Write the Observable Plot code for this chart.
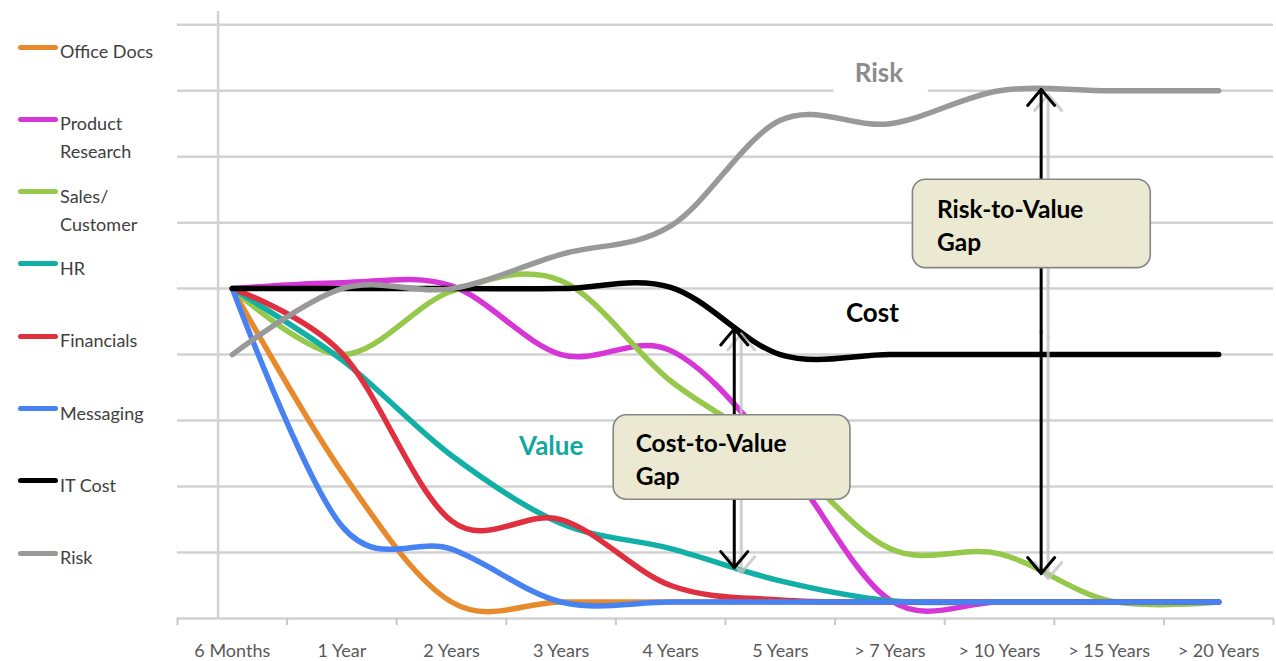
<!DOCTYPE html>
<html><head><meta charset="utf-8">
<script src="https://cdn.jsdelivr.net/npm/d3@7"></script>
<script src="https://cdn.jsdelivr.net/npm/@observablehq/plot@0.6"></script>
<style>
body{margin:0;background:#fff;font-family:Lato,"Open Sans",sans-serif;}
#wrap{position:relative;width:1276px;height:661px;overflow:hidden;}
#legend{position:absolute;left:0;top:0;width:170px;height:661px;}
.sw{position:absolute;left:18px;width:40px;height:5px;border-radius:3px;}
.lab{position:absolute;left:60px;font-size:18px;color:#404040;line-height:28px;white-space:nowrap;}
</style></head><body>
<div id="wrap"><div id="chart"></div><div id="legend"></div></div>
<script>
// ---- data ----
const categories = ["6 Months","1 Year","2 Years","3 Years","4 Years","5 Years","> 7 Years","> 10 Years","> 15 Years","> 20 Years"];
const seriesNames = ["Office Docs","Product\nResearch","Sales/\nCustomer","HR","Financials","Messaging","IT Cost","Risk"];
const seriesColors = ["#E8892B","#D636D6","#96C84B","#12AFA7","#E0303F","#4782F3","#000000","#999999"];
const officeDocs      = [5, 2.22, 0.25, 0.25, 0.25, 0.25, 0.25, 0.25, 0.25, 0.25];
const productResearch = [5, 5.09, 5.04, 4.0, 4.06, 2.45, 0.28, 0.25, 0.25, 0.25];
const salesCustomer   = [5, 4.0, 4.96, 5.12, 3.6, 2.5, 1.06, 0.98, 0.27, 0.25];
const hr              = [5, 3.92, 2.47, 1.44, 1.06, 0.57, 0.27, 0.25, 0.25, 0.25];
const financials      = [5, 4.02, 1.48, 1.5, 0.5, 0.28, 0.25, 0.25, 0.25, 0.25];
const messaging       = [5, 1.4, 1.05, 0.25, 0.25, 0.25, 0.25, 0.25, 0.25, 0.25];
const itCost          = [5, 5, 5, 5, 5.02, 4.0, 4.0, 4.0, 4.0, 4.0];
const risk            = [4.0, 5.0, 5.0, 5.52, 5.95, 7.55, 7.5, 8.0, 8.0, 8.0];
const allSeries = [officeDocs, productResearch, salesCustomer, hr, financials, messaging, itCost, risk];
const gridValues = [0,1,2,3,4,5,6,7,8,9];

// annotation anchors in data units (category index, value)
const labelTexts = ["Risk","Cost","Value"];
const labelX = [5.90, 5.84, 2.91];
const labelY = [8.26, 4.62, 2.60];
const labelColors = ["#8C8C8C","#000000","#12A79F"];
const gapBoxes = [
  {text:"Cost-to-Value\nGap", x1:3.48, x2:5.64, y1:1.80, y2:3.08, tx:3.68},
  {text:"Risk-to-Value\nGap", x1:6.21, x2:8.38, y1:5.31, y2:6.65, tx:6.43}
];
const gapArrows = [
  {x:4.58, top:4.39, bottom:0.77},
  {x:7.38, top:8.02, bottom:0.68}
];
const riskLabelBg = {x1:5.49, x2:6.35, y1:7.88, y2:8.65};
const valueAxisAt = -0.13;

// ---- chart ----
const boundaries = d3.range(-0.5, 10, 1);
const arrowSegs = gapArrows.flatMap(a => {
  const m = (a.top + a.bottom) / 2;
  return [{x:a.x, y1:m, y2:a.top}, {x:a.x, y1:m, y2:a.bottom}];
});
const arrowOpts = {x1:"x", x2:"x", y1:"y1", y2:"y2", headLength:10.5, headAngle:80, bend:0, insetStart:0, insetEnd:0};

const chart = Plot.plot({
  width: 1276, height: 661,
  marginLeft: 177, marginRight: 3, marginTop: 11, marginBottom: 43,
  x: {domain: [-0.5, 9.5]},
  y: {domain: [0, 9.2], axis: null},
  style: {fontFamily: "Lato, 'Open Sans', sans-serif", background: "#fff"},
  marks: [
    Plot.ruleY(gridValues, {stroke: "#d2d2d2", strokeWidth: 2.5}),
    Plot.ruleX([valueAxisAt], {y1: 0, y2: 9.2, stroke: "#d2d2d2", strokeWidth: 2.5}),
    Plot.axisX({ticks: boundaries, tickSize: 7, tickFormat: () => "", stroke: "#c8c8c8", strokeWidth: 2}),
    Plot.axisX({ticks: d3.range(categories.length), tickSize: 0, tickPadding: 26,
      tickFormat: i => categories[i], fontSize: 18, fill: "#595959"}),
    ...allSeries.map((vals, k) => Plot.line(vals, {
      x: (d, i) => i, y: d => d, stroke: seriesColors[k], strokeWidth: 5.5,
      curve: "cardinal", strokeLinecap: "round", strokeLinejoin: "round"
    })),
    Plot.rect([riskLabelBg], {x1:"x1", x2:"x2", y1:"y1", y2:"y2", fill: "#fff"}),
    Plot.arrow(arrowSegs, {...arrowOpts, stroke: "#c4c4c4", strokeWidth: 3, dx: 7, dy: 5, strokeOpacity: 0.8}),
    Plot.arrow(arrowSegs, {...arrowOpts, stroke: "#000", strokeWidth: 3}),
    Plot.rect(gapBoxes, {x1:"x1", x2:"x2", y1:"y1", y2:"y2", fill: "#ECE9D3", stroke: "#868686", strokeWidth: 1.6, rx: 13, ry: 13}),
    Plot.text(gapBoxes, {x: "tx", y: d => (d.y1 + d.y2) / 2, text: "text", textAnchor: "start",
      lineAnchor: "middle", lineHeight: 1.35, fontWeight: "bold", fontSize: 24.5, fill: "#000"}),
    ...labelTexts.map((t, k) => Plot.text([t], {x: labelX[k], y: labelY[k], text: d => d,
      fill: labelColors[k], fontWeight: "bold", fontSize: 26}))
  ]
});
document.getElementById("chart").appendChild(chart);

// ---- legend ----
const legend = document.getElementById("legend");
seriesNames.forEach((name, i) => {
  const cy = 47 + i * 72.3;
  const sw = document.createElement("div");
  sw.className = "sw"; sw.style.top = (cy - 2.5) + "px"; sw.style.background = seriesColors[i];
  const lab = document.createElement("div");
  lab.className = "lab"; lab.style.top = (cy - 10) + "px";
  lab.innerHTML = name.split("\n").join("<br>");
  legend.appendChild(sw); legend.appendChild(lab);
});
</script></body></html>
